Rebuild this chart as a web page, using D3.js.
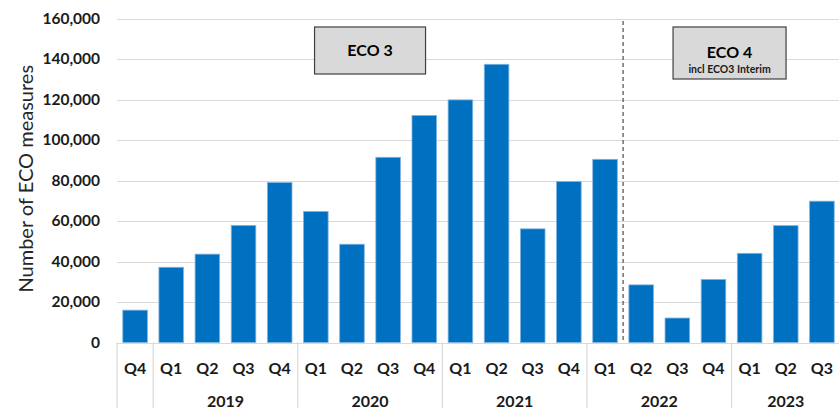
<!DOCTYPE html>
<html>
<head>
<meta charset="utf-8">
<script src="https://cdn.jsdelivr.net/npm/d3@7"></script>
<style>
    html, body { margin: 0; padding: 0; background: #fff; }
    svg { display: block; font-family: Lato, 'Open Sans', sans-serif; }
</style>
</head>
<body>
<svg id="chart" width="839" height="408"></svg>
<script>
// Chart data
const quarters = ['Q4', 'Q1', 'Q2', 'Q3', 'Q4', 'Q1', 'Q2', 'Q3', 'Q4', 'Q1', 'Q2', 'Q3', 'Q4', 'Q1', 'Q2', 'Q3', 'Q4', 'Q1', 'Q2', 'Q3'];
const years = ['2018', '2019', '2019', '2019', '2019', '2020', '2020', '2020', '2020', '2021', '2021', '2021', '2021', '2022', '2022', '2022', '2022', '2023', '2023', '2023'];
const measures = [16000, 37200, 43700, 57900, 79100, 64800, 48600, 91600, 112300, 120000, 137600, 56200, 79600, 90600, 28500, 12100, 31200, 44100, 57800, 69900];
const yearLabels = ['', '2019', '2020', '2021', '2022', '2023'];
const yTicks = [0, 20000, 40000, 60000, 80000, 100000, 120000, 140000, 160000];

const keys = quarters.map((q, i) => years[i] + ' ' + q);

const svg = d3.select('#chart');
const plotTop = 19, plotBottom = 342.5, left = 117, right = 840;

const x = d3.scaleBand()
    .domain(keys)
    .range([left, right])
    .paddingInner(0.32)
    .paddingOuter(0.16);

const y = d3.scaleLinear()
    .domain([0, 160000])
    .range([plotBottom, plotTop]);

const step = x.step();
// left edge of a category slot
const slotStart = k => x(k) - step * x.paddingInner() / 2;

// Gridlines
svg.append('g')
    .selectAll('line')
    .data(yTicks)
    .enter()
    .append('line')
    .attr('x1', left)
    .attr('x2', 839)
    .attr('y1', d => Math.round(y(d)) + 0.5)
    .attr('y2', d => Math.round(y(d)) + 0.5)
    .attr('stroke', '#d9d9d9')
    .attr('stroke-width', 1.2);

// Y tick labels
svg.append('g')
    .selectAll('text')
    .data(yTicks)
    .enter()
    .append('text')
    .attr('x', 100)
    .attr('y', d => y(d) + 5)
    .attr('text-anchor', 'end')
    .attr('font-size', '15.5px')
    .attr('font-weight', 'bold')
    .attr('fill', '#1a1a1a')
    .text(d => d3.format(',')(d));

// Y axis title
svg.append('text')
    .attr('transform', `translate(33,${(plotTop + plotBottom) / 2 - 2}) rotate(-90)`)
    .attr('text-anchor', 'middle')
    .attr('font-size', '20px')
    .attr('fill', '#262626')
    .text('Number of ECO measures');

// Bars
svg.append('g')
    .selectAll('rect')
    .data(measures)
    .enter()
    .append('rect')
    .attr('x', (d, i) => x(keys[i]))
    .attr('y', d => y(d))
    .attr('width', x.bandwidth())
    .attr('height', d => y(0) - y(d))
    .attr('fill', '#0070c0')
    .attr('stroke', '#80b3e0')
    .attr('stroke-width', 0.8);

// Quarter labels
svg.append('g')
    .selectAll('text')
    .data(quarters)
    .enter()
    .append('text')
    .attr('x', (d, i) => x(keys[i]) + x.bandwidth() / 2)
    .attr('y', 373.5)
    .attr('text-anchor', 'middle')
    .attr('font-size', '16px')
    .attr('font-weight', 'bold')
    .attr('fill', '#1a1a1a')
    .text(d => d);

// Year groups: separators and labels
const groupStarts = [0];
years.forEach((yr, i) => { if (i > 0 && yr !== years[i - 1]) groupStarts.push(i); });
const groupEdges = groupStarts.map(i => slotStart(keys[i]));

svg.append('line')
    .attr('x1', left)
    .attr('x2', 839)
    .attr('y1', Math.round(plotBottom) + 0.5)
    .attr('y2', Math.round(plotBottom) + 0.5)
    .attr('stroke', '#d9d9d9')
    .attr('stroke-width', 1.2);

svg.append('g')
    .selectAll('line')
    .data(groupEdges)
    .enter()
    .append('line')
    .attr('x1', d => d)
    .attr('x2', d => d)
    .attr('y1', plotBottom)
    .attr('y2', 408)
    .attr('stroke', '#d9d9d9')
    .attr('stroke-width', 1.2);

svg.append('g')
    .selectAll('text')
    .data(groupStarts)
    .enter()
    .append('text')
    .attr('x', (d, gi) => {
        const end = gi + 1 < groupStarts.length ? groupStarts[gi + 1] : keys.length;
        return slotStart(keys[d]) + (end - d) * step / 2;
    })
    .attr('y', 406.5)
    .attr('text-anchor', 'middle')
    .attr('font-size', '16px')
    .attr('font-weight', 'bold')
    .attr('fill', '#1a1a1a')
    .text((d, gi) => yearLabels[gi]);

// Scheme divider between ECO3 and ECO4
const dividerX = slotStart('2022 Q2');
svg.append('line')
    .attr('x1', dividerX)
    .attr('x2', dividerX)
    .attr('y1', plotTop + 2)
    .attr('y2', plotBottom)
    .attr('stroke', '#595959')
    .attr('stroke-width', 1.3)
    .attr('stroke-dasharray', '4,3');

// Scheme boxes
function schemeBox(cx, w, h, title, sub) {
    const g = svg.append('g');
    g.append('rect')
        .attr('x', cx - w / 2)
        .attr('y', 27)
        .attr('width', w)
        .attr('height', h)
        .attr('fill', '#d9d9d9')
        .attr('stroke', '#404040')
        .attr('stroke-width', 1.2);
    g.append('text')
        .attr('x', cx)
        .attr('y', sub ? 58 : 56)
        .attr('text-anchor', 'middle')
        .attr('font-size', '16px')
        .attr('font-weight', 'bold')
        .attr('fill', '#000')
        .text(title);
    if (sub) {
        g.append('text')
            .attr('x', cx)
            .attr('y', 73)
            .attr('text-anchor', 'middle')
            .attr('font-size', '10.5px')
            .attr('font-weight', 'bold')
            .attr('fill', '#1a1a1a')
            .text(sub);
    }
}

schemeBox(slotStart('2020 Q3'), 111, 47, 'ECO 3');
schemeBox(slotStart('2023 Q1') - 2, 113, 52, 'ECO 4', 'incl ECO3 Interim');
</script>
</body>
</html>
